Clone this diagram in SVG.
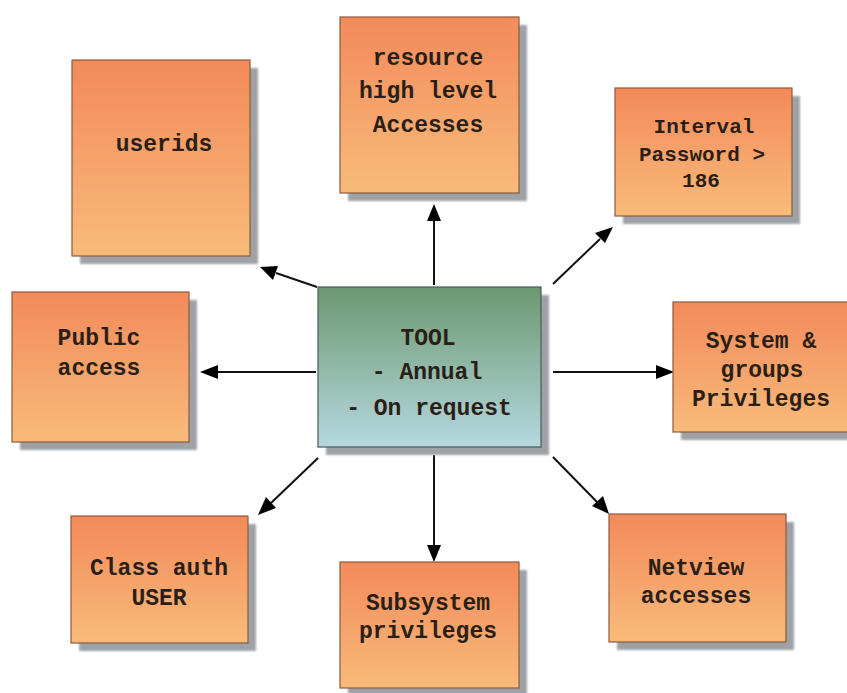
<svg xmlns="http://www.w3.org/2000/svg" width="847" height="693" viewBox="0 0 847 693">
<defs>
<linearGradient id="og" x1="0" y1="0" x2="0" y2="1">
<stop offset="0" stop-color="#f38a5a"/>
<stop offset="1" stop-color="#f8bb7a"/>
</linearGradient>
<linearGradient id="gg" x1="0" y1="0" x2="0" y2="1">
<stop offset="0" stop-color="#6c9870"/>
<stop offset="1" stop-color="#b6d8e0"/>
</linearGradient>
<filter id="blur" x="-10%" y="-10%" width="120%" height="120%"><feGaussianBlur stdDeviation="1.2"/></filter>
<marker id="ah" markerWidth="10" markerHeight="10" refX="9" refY="5" orient="auto" markerUnits="userSpaceOnUse" viewBox="0 0 10 10">
<path d="M0,0 L10,5 L0,10 z" fill="#000"/>
</marker>
</defs>
<style>
.sh{fill:#9ea2a6;filter:url(#blur)}
.box{fill:url(#og);stroke:#8b5a3c;stroke-width:1.2}
.tool{fill:url(#gg);stroke:#4d5a55;stroke-width:1.2}
.t{font-family:"Liberation Mono","Courier New",monospace;font-weight:bold;font-size:23px;fill:#2a1f17;text-anchor:middle}
.s{font-size:21px}
.c{stroke:#111;stroke-width:2;fill:none}
.hd{fill:#000}
</style>
<rect width="847" height="693" fill="#fff"/>
<g id="connectors">
<line class="c" x1="434" y1="285" x2="434" y2="220"/><path class="hd" d="M434,204 L427,221 L441,221 z"/>
<line class="c" x1="553" y1="284" x2="600" y2="239"/><path class="hd" d="M613,227 L595,233 L605,243 z"/>
<line class="c" x1="317" y1="287" x2="276" y2="273"/><path class="hd" d="M260,267 L273,280 L278,266 z"/>
<line class="c" x1="316" y1="372" x2="217" y2="372"/><path class="hd" d="M200,372 L218,365 L218,379 z"/>
<line class="c" x1="553" y1="372" x2="656" y2="372"/><path class="hd" d="M674,372 L656,365 L656,379 z"/>
<line class="c" x1="318" y1="458" x2="271" y2="503"/><path class="hd" d="M258,515 L266,497 L276,508 z"/>
<line class="c" x1="434" y1="455" x2="434" y2="546"/><path class="hd" d="M434,562 L427,545 L441,545 z"/>
<line class="c" x1="553" y1="457" x2="597" y2="502"/><path class="hd" d="M609,514 L603,496 L592,506 z"/>
</g>
<g id="n-userids">
<rect class="sh" x="80" y="68" width="178" height="196"/>
<rect class="box" x="72" y="60" width="178" height="196"/>
<text class="t" x="164" y="151">userids</text>
</g>
<g id="n-resource">
<rect class="sh" x="348" y="25" width="179" height="176"/>
<rect class="box" x="340" y="17" width="179" height="176"/>
<text class="t" x="428" y="65">resource</text>
<text class="t" x="428" y="98">high level</text>
<text class="t" x="428" y="132">Accesses</text>
</g>
<g id="n-interval">
<rect class="sh" x="623" y="96" width="177" height="128"/>
<rect class="box" x="615" y="88" width="177" height="128"/>
<text class="t s" x="704" y="133">Interval</text>
<text class="t s" x="702" y="161">Password &gt;</text>
<text class="t s" x="701" y="187">186</text>
</g>
<g id="n-public">
<rect class="sh" x="20" y="300" width="177" height="150"/>
<rect class="box" x="12" y="292" width="177" height="150"/>
<text class="t" x="99" y="345">Public</text>
<text class="t" x="99" y="375">access</text>
</g>
<g id="n-tool">
<rect class="sh" x="326" y="295" width="223" height="160"/>
<rect class="tool" x="318" y="287" width="223" height="160"/>
<text class="t" x="428" y="345">TOOL</text>
<text class="t" x="427" y="379">- Annual</text>
<text class="t" x="429" y="415">- On request</text>
</g>
<g id="n-system">
<rect class="sh" x="681" y="310" width="176" height="130"/>
<rect class="box" x="673" y="302" width="176" height="130"/>
<text class="t" x="761" y="348">System &amp;</text>
<text class="t" x="762" y="377">groups</text>
<text class="t" x="761" y="406">Privileges</text>
</g>
<g id="n-classauth">
<rect class="sh" x="79" y="524" width="177" height="127"/>
<rect class="box" x="71" y="516" width="177" height="127"/>
<text class="t" x="159" y="575">Class auth</text>
<text class="t" x="159" y="605">USER</text>
</g>
<g id="n-subsystem">
<rect class="sh" x="348" y="570" width="179" height="126"/>
<rect class="box" x="340" y="562" width="179" height="126"/>
<text class="t" x="428" y="610">Subsystem</text>
<text class="t" x="428" y="638">privileges</text>
</g>
<g id="n-netview">
<rect class="sh" x="617" y="522" width="177" height="128"/>
<rect class="box" x="609" y="514" width="177" height="128"/>
<text class="t" x="696" y="575">Netview</text>
<text class="t" x="696" y="603">accesses</text>
</g>
</svg>
